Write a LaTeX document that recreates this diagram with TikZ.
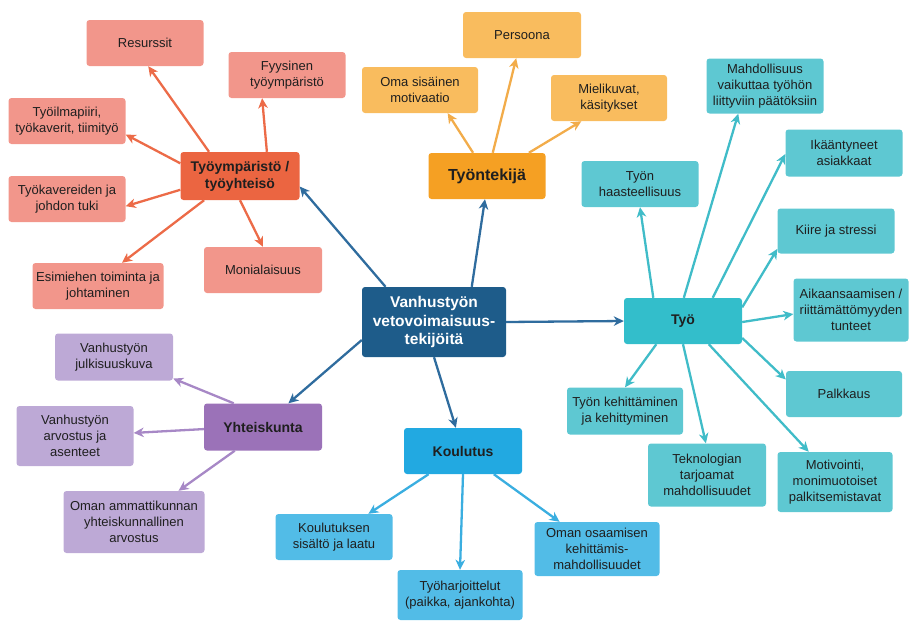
\documentclass[tikz,border=0pt]{standalone}
\usepackage{fontspec}
\setmainfont{Liberation Sans}
\usepackage{tikz}
\usetikzlibrary{arrows.meta,positioning}

\definecolor{hubblue}{HTML}{1E5C8A}
\definecolor{hubarrow}{HTML}{2F6C9E}
\definecolor{envmain}{HTML}{EB6541}
\definecolor{envsub}{HTML}{F2968B}
\definecolor{envarrow}{HTML}{EC6B48}
\definecolor{empmain}{HTML}{F5A023}
\definecolor{empsub}{HTML}{F9BC5E}
\definecolor{emparrow}{HTML}{F2AC4A}
\definecolor{workmain}{HTML}{33BECB}
\definecolor{worksub}{HTML}{5EC8D2}
\definecolor{workarrow}{HTML}{40BCC8}
\definecolor{edumain}{HTML}{22A9E1}
\definecolor{edusub}{HTML}{52BCE7}
\definecolor{eduarrow}{HTML}{3AAEE0}
\definecolor{socmain}{HTML}{9B72B8}
\definecolor{socsub}{HTML}{BDA9D6}
\definecolor{socarrow}{HTML}{A788C6}

\begin{document}
\begin{tikzpicture}[x=1pt,y=-1pt,
	box/.style={rectangle,rounded corners=3pt,align=center,inner sep=2pt,
		minimum width=117pt,minimum height=46pt,text=black!88,
		font=\fontsize{13}{16}\selectfont},
	topic/.style={box,font=\fontsize{14}{17}\selectfont\bfseries},
	link/.style={line width=2.3pt,-{Stealth[length=10pt,width=9.5pt,inset=3pt]}}]
\useasboundingbox (0,0) rectangle (909,621);

% keskus
\node [box,fill=hubblue,text=white,minimum width=144pt,minimum height=70pt,
	font=\fontsize{15.5}{18.5}\selectfont\bfseries] (hub) at (434,322)
	{Vanhustyön\\vetovoimaisuus-\\tekijöitä};

% paaryhmat
\node [topic,fill=envmain,minimum width=119pt,minimum height=48pt] (env) at (240,176) {Työympäristö /\\työyhteisö};
\node [topic,fill=empmain,font=\fontsize{16}{19}\selectfont\bfseries] (emp) at (487,176) {Työntekijä};
\node [topic,fill=workmain,minimum width=118pt] (work) at (683,321) {Työ};
\node [topic,fill=edumain,minimum width=118pt] (edu) at (463,451) {Koulutus};
\node [topic,fill=socmain,minimum width=118pt,minimum height=47pt] (soc) at (263,427) {Yhteiskunta};

% tyoymparisto
\node [box,fill=envsub] (res) at (145,43) {Resurssit};
\node [box,fill=envsub] (phys) at (287,75) {Fyysinen\\työympäristö};
\node [box,fill=envsub] (atmo) at (67,121) {Työilmapiiri,\\työkaverit, tiimityö};
\node [box,fill=envsub] (supp) at (67,199) {Työkavereiden ja\\johdon tuki};
\node [box,fill=envsub,minimum width=131pt] (lead) at (98,286) {Esimiehen toiminta ja\\johtaminen};
\node [box,fill=envsub,minimum width=118pt] (multi) at (263,270) {Monialaisuus};

% tyontekija
\node [box,fill=empsub,minimum width=118pt] (pers) at (522,35) {Persoona};
\node [box,fill=empsub,minimum width=116pt] (moti) at (420,90) {Oma sisäinen\\motivaatio};
\node [box,fill=empsub,minimum width=116pt] (imag) at (609,98) {Mielikuvat,\\käsitykset};

% tyo
\node [box,fill=worksub] (chal) at (640,184) {Työn\\haasteellisuus};
\node [box,fill=worksub,minimum height=55pt] (infl) at (765,86) {Mahdollisuus\\vaikuttaa työhön\\liittyviin päätöksiin};
\node [box,fill=worksub,minimum height=47pt] (aged) at (844,153) {Ikääntyneet\\asiakkaat};
\node [box,fill=worksub,minimum height=45pt] (rush) at (836,231) {Kiire ja stressi};
\node [box,fill=worksub,minimum width=115pt,minimum height=63pt] (achv) at (851,310) {Aikaansaamisen /\\riittämättömyyden\\tunteet};
\node [box,fill=worksub,minimum width=116pt] (pay) at (844,394) {Palkkaus};
\node [box,fill=worksub,minimum width=116pt,minimum height=47pt] (devl) at (625,411) {Työn kehittäminen\\ja kehittyminen};
\node [box,fill=worksub,minimum width=118pt,minimum height=63pt] (tech) at (707,475) {Teknologian\\tarjoamat\\mahdollisuudet};
\node [box,fill=worksub,minimum width=115pt,minimum height=60pt] (rewd) at (835,482) {Motivointi,\\monimuotoiset\\palkitsemistavat};

% koulutus
\node [box,fill=edusub] (cont) at (334,537) {Koulutuksen\\sisältö ja laatu};
\node [box,fill=edusub,minimum width=125pt,minimum height=50pt] (prac) at (460,595) {Työharjoittelut\\(paikka, ajankohta)};
\node [box,fill=edusub,minimum width=125pt,minimum height=54pt] (skil) at (597,549) {Oman osaamisen\\kehittämis-\\mahdollisuudet};

% yhteiskunta
\node [box,fill=socsub,minimum width=118pt,minimum height=47pt] (publ) at (114,357) {Vanhustyön\\julkisuuskuva};
\node [box,fill=socsub,minimum height=60pt] (appr) at (75,436) {Vanhustyön\\arvostus ja\\asenteet};
\node [box,fill=socsub,minimum width=141pt,minimum height=62pt] (prof) at (134,522) {Oman ammattikunnan\\yhteiskunnallinen\\arvostus};

% nuolet
\draw [link,hubarrow] (hub.144) -- (env.-10);
\draw [link,hubarrow] (hub.43) -- (emp.265);
\draw [link,hubarrow] (hub.0) -- (work.180);
\draw [link,hubarrow] (hub.270) -- (edu.107);
\draw [link,hubarrow] (hub.194) -- (soc.43);

\draw [link,envarrow] (env.142) -- (res.278);
\draw [link,envarrow] (env.42) -- (phys.223);
\draw [link,envarrow] (env.168) -- (atmo.347);
\draw [link,envarrow] (env.193) -- (supp.353);
\draw [link,envarrow] (env.214) -- (lead.44);
\draw [link,envarrow] (env.270) -- (multi.90);

\draw [link,emparrow] (emp.121) -- (moti.320);
\draw [link,emparrow] (emp.76) -- (pers.256);
\draw [link,emparrow] (emp.29) -- (imag.220);

\draw [link,workarrow] (work.142) -- (chal.270);
\draw [link,workarrow] (work.88) -- (infl.226);
\draw [link,workarrow] (work.38) -- (aged.181);
\draw [link,workarrow] (work.13) -- (rush.197);
\draw [link,workarrow] (work.-1) -- (achv.184);
\draw [link,workarrow] (work.344) -- (pay.166);
\draw [link,workarrow] (work.221) -- (devl.90);
\draw [link,workarrow] (work.270) -- (tech.92);
\draw [link,workarrow] (work.318) -- (rewd.131);

\draw [link,eduarrow] (edu.214) -- (cont.34);
\draw [link,eduarrow] (edu.270) -- (prac.90);
\draw [link,eduarrow] (edu.323) -- (skil.144);

\draw [link,socarrow] (soc.141) -- (publ.340);
\draw [link,socarrow] (soc.182) -- (appr.3);
\draw [link,socarrow] (soc.220) -- (prof.35);
\end{tikzpicture}
\end{document}
